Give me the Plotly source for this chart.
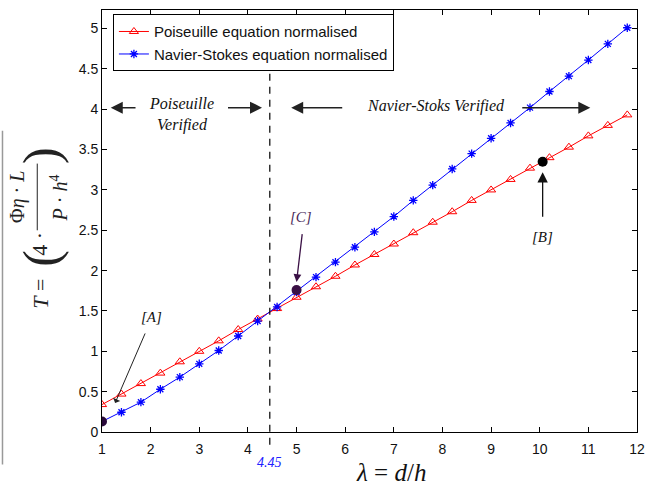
import plotly.graph_objects as go

# ---------------- data ----------------
lam = [1.0, 1.4, 1.8, 2.2, 2.6, 3.0, 3.4, 3.8, 4.2, 4.6, 5.0, 5.4, 5.8, 6.2,
       6.6, 7.0, 7.4, 7.8, 8.2, 8.6, 9.0, 9.4, 9.8, 10.2, 10.6, 11.0, 11.4, 11.8]
poiseuille = [0.34, 0.47, 0.60, 0.73, 0.87, 1.00, 1.13, 1.27, 1.40, 1.53, 1.67, 1.80,
              1.93, 2.07, 2.20, 2.33, 2.47, 2.60, 2.73, 2.87, 3.00, 3.13, 3.27, 3.40,
              3.53, 3.67, 3.80, 3.93]
navier = [0.13, 0.245, 0.37, 0.53, 0.68, 0.845, 1.01, 1.19, 1.375, 1.55, 1.735, 1.92,
          2.105, 2.29, 2.48, 2.67, 2.87, 3.06, 3.26, 3.45, 3.64, 3.83, 4.02, 4.22,
          4.41, 4.61, 4.81, 5.01]
x_ticks = [1, 2, 3, 4, 5, 6, 7, 8, 9, 10, 11, 12]
crossover = 4.45

# marked points [A], [C], [B]
mark_x = [1.0, 5.0, 10.06]
mark_y = [0.13, 1.76, 3.35]
mark_colors = ["#2a0a3a", "#3a1045", "#000000"]

fig = go.Figure()
fig.add_trace(go.Scatter(
    x=lam, y=poiseuille, mode="lines+markers", name="Poiseuille equation normalised",
    line=dict(color="#ff0000", width=1),
    marker=dict(symbol="triangle-up-open", size=8, color="#ff0000",
                line=dict(color="#ff0000", width=1))))
fig.add_trace(go.Scatter(
    x=lam, y=navier, mode="lines+markers", name="Navier-Stokes equation normalised",
    line=dict(color="#0000ff", width=1),
    marker=dict(symbol="asterisk-open", size=7, color="#0000ff",
                line=dict(color="#0000ff", width=1.3))))
fig.add_trace(go.Scatter(
    x=mark_x, y=mark_y, mode="markers", showlegend=False,
    marker=dict(symbol="circle", size=10, color=mark_colors)))

serif = "Liberation Serif, Times New Roman, serif"
ann = []

# arrows for the verified regions
arrow_y = 4.02
for tip, tail in [(1.18, 1.72), (4.29, 3.56), (4.89, 5.97), (11.04, 9.61)]:
    ann.append(dict(x=tip, y=arrow_y, ax=tail, ay=arrow_y, xref="x", yref="y",
                    axref="x", ayref="y", text="", showarrow=True, arrowhead=2,
                    arrowsize=1.6, arrowwidth=1.5, arrowcolor="#222222"))
ann.append(dict(x=2.64, y=3.93, xref="x", yref="y", showarrow=False,
                text="<i>Poiseuille<br>Verified</i>",
                font=dict(family=serif, size=16, color="#111111")))
ann.append(dict(x=7.87, y=4.04, xref="x", yref="y", showarrow=False,
                text="<i>Navier-Stoks Verified</i>",
                font=dict(family=serif, size=16, color="#111111")))

# [A]
ann.append(dict(x=1.27, y=0.36, ax=1.9, ay=1.24, xref="x", yref="y", axref="x",
                ayref="y", text="", showarrow=True, arrowhead=1, arrowsize=1.3,
                arrowwidth=1, arrowcolor="#222222"))
ann.append(dict(x=2.02, y=1.43, xref="x", yref="y", showarrow=False,
                text="<i>[A]</i>", font=dict(family=serif, size=15, color="#111111")))
# [C]
ann.append(dict(x=5.0, y=1.86, ax=5.12, ay=2.47, xref="x", yref="y", axref="x",
                ayref="y", text="", showarrow=True, arrowhead=2, arrowsize=1.2,
                arrowwidth=1.3, arrowcolor="#3a1045"))
ann.append(dict(x=5.09, y=2.66, xref="x", yref="y", showarrow=False,
                text="<i>[C]</i>", font=dict(family=serif, size=15, color="#4a2a5a")))
# [B]
ann.append(dict(x=10.06, y=3.22, ax=10.06, ay=2.65, xref="x", yref="y", axref="x",
                ayref="y", text="", showarrow=True, arrowhead=2, arrowsize=1.6,
                arrowwidth=1.3, arrowcolor="#111111"))
ann.append(dict(x=10.06, y=2.42, xref="x", yref="y", showarrow=False,
                text="<i>[B]</i>", font=dict(family=serif, size=15, color="#111111")))

# crossover label
ann.append(dict(x=crossover, y=-0.072, xref="x", yref="paper", showarrow=False,
                xanchor="center", yanchor="middle",
                text="<i>4.45</i>", font=dict(family=serif, size=14, color="#2020ff")))
# x title
ann.append(dict(x=0.541, y=-0.1335, xref="paper", yref="paper", showarrow=False,
                xanchor="center", yanchor="bottom",
                text="<i>λ</i>&nbsp;=&nbsp;<i>d</i>/<i>h</i>",
                font=dict(family=serif, size=25, color="#111111")))

# y title built from rotated pieces
ylab = [
    (-0.115, 0.329, "<i>T</i>&nbsp;=", 22),
    (-0.113, 0.412, "(", 50),
    (-0.117, 0.447, "4&nbsp;·", 22),
    (-0.158, 0.558, "Φ<i>η</i>&nbsp;·&nbsp;<i>L</i>", 20),
    (-0.080, 0.554, "<i>P</i>&nbsp;·&nbsp;<i>h</i><sup>4</sup>", 20),
    (-0.115, 0.655, ")", 50),
]
for xx, yy, tt, ss in ylab:
    ann.append(dict(x=xx, y=yy, xref="paper", yref="paper", showarrow=False,
                    xanchor="center", yanchor="middle",
                    text=tt, textangle=-90,
                    font=dict(family=serif, size=ss, color="#222222")))

shapes = [
    dict(type="line", xref="x", yref="paper", x0=crossover, x1=crossover,
         y0=-0.03, y1=0.915, line=dict(color="#000000", width=1.2, dash="7px,6px")),
    dict(type="line", xref="paper", yref="paper", x0=-0.121, x1=-0.121,
         y0=0.478, y1=0.636, line=dict(color="#222222", width=1)),
    dict(type="line", xref="paper", yref="paper", x0=-0.186, x1=-0.186,
         y0=-0.077, y1=0.714, line=dict(color="#999999", width=1.5)),
]

axis_common = dict(showline=True, linecolor="#000000", linewidth=1, mirror="ticks",
                   ticks="inside", ticklen=5, tickcolor="#000000", showgrid=False,
                   zeroline=False, tickfont=dict(family="Liberation Sans, Arial", size=14,
                                                 color="#111111"))
fig.update_layout(
    width=654, height=490,
    margin=dict(l=102, r=14, t=9, b=58),
    paper_bgcolor="white", plot_bgcolor="white",
    xaxis=dict(range=[1, 12], tickvals=x_ticks, ticklabelstandoff=4, **axis_common),
    yaxis=dict(range=[0, 5.23], dtick=0.5, **axis_common),
    legend=dict(x=0.0204, y=0.99, xanchor="left", yanchor="top",
                bgcolor="white", bordercolor="#000000", borderwidth=1,
                font=dict(family="Liberation Sans, Arial", size=15, color="#111111"),
                tracegroupgap=0, itemwidth=30),
    annotations=ann, shapes=shapes,
)
fig.write_html("out.html",
               config={"displayModeBar": False},
               post_script="document.body.style.margin='0';"
                           "document.body.style.overflow='hidden';")
